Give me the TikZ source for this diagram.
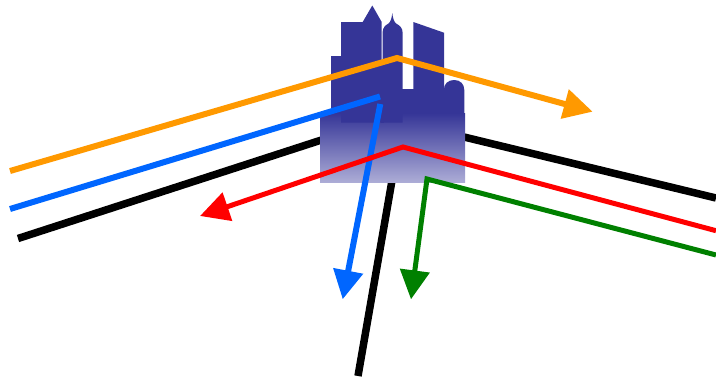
\documentclass[tikz,border=0pt]{standalone}
\usetikzlibrary{arrows.meta}
\definecolor{citydark}{RGB}{53,53,151}
\definecolor{citylight}{RGB}{172,172,214}
\definecolor{rayorange}{RGB}{255,153,0}
\definecolor{rayblue}{RGB}{0,102,255}
\definecolor{rayred}{RGB}{255,0,0}
\definecolor{raygreen}{RGB}{0,128,0}
\begin{document}
\begin{tikzpicture}[x=1pt,y=-1pt,
  ray/.style={line cap=butt, line join=miter},
  tip/.style={-{Triangle[length=29pt,width=29pt]}},
  city/.style={fill=citydark, draw=none}]
\useasboundingbox (0,0) rectangle (716,378);

% ray end points and bend points
\coordinate (oA) at (10,171);   \coordinate (oB) at (397,58);   \coordinate (oC) at (592.7,111.7);
\coordinate (bA) at (10,209);   \coordinate (bB) at (380,96.5);
\coordinate (bD) at (380.3,104);\coordinate (bC) at (342.7,299.3);
\coordinate (kA) at (18,238.5); \coordinate (kL) at (400,114.5);
\coordinate (kR) at (400,121.5);\coordinate (kC) at (716,198);
\coordinate (kT) at (402,123);  \coordinate (kD) at (358,376);
\coordinate (rA) at (716,230.7);\coordinate (rB) at (403,147);  \coordinate (rC) at (200,216);
\coordinate (gA) at (716,255);  \coordinate (gB) at (427,179);  \coordinate (gC) at (411,299.3);

% black ray passes behind the city
\draw[ray, line width=7.5pt, black] (kA) -- (kL);
\draw[ray, line width=7.5pt, black] (kR) -- (kC);
\draw[ray, line width=7.5pt, black] (kT) -- (kD);

% city silhouette
\shade[top color=citydark, bottom color=citylight] (320,113) rectangle (465,182);
\fill[city] (331,56) rectangle (341.5,113);
\fill[city] (341,122.7) -- (341,22) -- (362.7,22) -- (372.3,5.5) -- (381.7,22)
  -- (381.7,122.7) -- cycle;
\fill[city] (382.5,122.7) -- (382.5,33)
  .. controls (382.5,27) and (386,25) .. (388.5,23.5)
  .. controls (390.5,22) and (391.8,18) .. (392.3,13)
  .. controls (392.8,18) and (394.1,22) .. (396.1,23.5)
  .. controls (398.6,25) and (402.7,27) .. (402.7,33)
  -- (402.7,122.7) -- cycle;
\fill[city] (381,60) rectangle (383.5,122.7);
\fill[city] (402.2,89.3) rectangle (413.8,113);
\fill[city] (413.3,113) -- (413.3,22) -- (444,32.7) -- (444,113) -- cycle;
\fill[city] (443.8,113) -- (443.8,90)
  .. controls (443.8,84) and (448,80) .. (454.1,80)
  .. controls (460.3,80) and (464.3,84) .. (464.3,90)
  -- (464.3,113) -- cycle;

% rays in front of the city
\draw[ray, tip, line width=6pt, rayorange] (oA) -- (oB) -- (oC);
\draw[ray, line width=6pt, rayblue] (bA) -- (bB);
\draw[ray, tip, line width=6pt, rayblue] (bD) -- (bC);
\draw[ray, tip, line width=5pt, rayred] (rA) -- (rB) -- (rC);
\draw[ray, tip, line width=5pt, raygreen] (gA) -- (gB) -- (gC);
\end{tikzpicture}
\end{document}
